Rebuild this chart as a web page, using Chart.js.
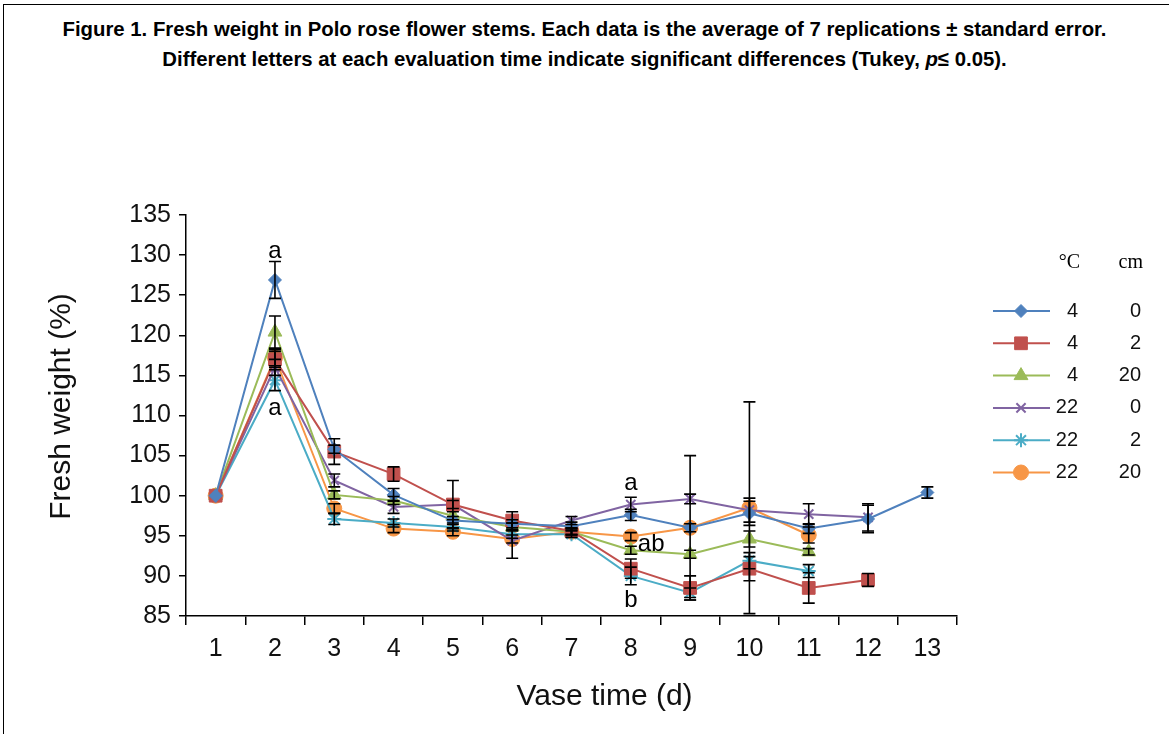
<!DOCTYPE html>
<html>
<head>
<meta charset="utf-8">
<script src="https://cdn.jsdelivr.net/npm/chart.js@4.4.1/dist/chart.umd.min.js"></script>
<style>
  html, body { margin: 0; padding: 0; background: #fff; }
  #wrap { position: relative; width: 1169px; height: 734px; overflow: hidden; background: #fff; }
  #frame { position: absolute; left: 3px; top: 4px; width: 1180px; height: 740px; border-left: 1.5px solid #000; border-top: 1.5px solid #000; box-sizing: border-box; }
  #title { position: absolute; left: 0; top: 14px; width: 1169px; text-align: center; font-family: "Liberation Sans", Arial, sans-serif; font-weight: bold; font-size: 21px; line-height: 30px; color: #000; white-space: nowrap; transform-origin: 584.5px 0; }
  #title span { display: inline-block; }
  canvas { position: absolute; left: 0; top: 0; }
</style>
</head>
<body>
<div id="wrap">
  <div id="frame"></div>
  <div id="title"><span id="t1">Figure 1. Fresh weight in Polo rose flower stems. Each data is the average of 7 replications ± standard error.</span><br><span id="t2">Different letters at each evaluation time indicate significant differences (Tukey, <i>p</i>≤ 0.05).</span></div>
  <canvas id="c" width="1169" height="734"></canvas>
</div>
<script>
// ---- Data ----
const days = ['1','2','3','4','5','6','7','8','9','10','11','12','13'];
const yTicks = [85, 90, 95, 100, 105, 110, 115, 120, 125, 130, 135];
const xTitle = 'Vase time (d)';
const yTitle = 'Fresh weight (%)';

const temps = ['4', '4', '4', '22', '22', '22'];
const cuts  = ['0', '2', '20', '0', '2', '20'];

const t4c0   = [100, 126.9, 105.8, 100.1, 96.9, 96.5, 96.2, 97.6, 96.0, 97.8, 95.9, 97.1, 100.4];
const t4c2   = [100, 117.0, 105.5, 102.7, 98.9, 96.9, 95.6, 90.9, 88.5, 90.9, 88.5, 89.5, null];
const t4c20  = [100, 120.4, 100.1, 99.4, 97.5, 96.1, 95.5, 93.2, 92.7, 94.6, 93.0, null, null];
const t22c0  = [100, 116.0, 101.9, 98.6, 98.9, 94.4, 96.9, 98.9, 99.6, 98.2, 97.7, 97.3, null];
const t22c2  = [100, 114.4, 97.1, 96.6, 96.1, 95.2, 95.2, 90.0, 87.9, 91.9, 90.6, null, null];
const t22c20 = [100, 117.2, 98.4, 95.9, 95.5, 94.6, 95.5, 94.9, 96.0, 98.5, 95.1, null, null];

// standard errors
const e4c0   = [0, 2.3, 0.5, 0.8, 0.5, 0.5, 0.5, 0.7, 9.0, 1.5, 0.6, 1.7, 0.7];
const e4c2   = [0, 1.0, 1.6, 0.9, 3.0, 1.1, 0.4, 1.2, 1.5, 1.5, 1.9, 0.8, null];
const e4c20  = [0, 2.0, 0.5, 0.5, 0.5, 0.5, 0.4, 0.5, 0.5, 1.0, 0.4, null, null];
const e22c0  = [0, 1.0, 0.8, 0.8, 0.5, 2.2, 0.5, 0.9, 0.6, 1.5, 1.3, 1.7, null];
const e22c2  = [0, 1.3, 0.7, 0.5, 0.5, 0.5, 0.4, 1.1, 0.6, 1.0, 0.8, null, null];
const e22c20 = [0, 1.0, 0.6, 0.5, 0.5, 0.5, 0.4, 0.5, 0.5, 13.2, 1.0, null, null];

// significance letters
const letterText  = ['a', 'a', 'a', 'ab', 'b'];
const letterDay   = ['2', '2', '8', '8', '8'];
const letterValue = [130.5, 110.9, 101.5, 93.9, 87.0];
const letterAlign = ['center', 'center', 'center', 'left', 'center'];

const colors = ['#4F81BD', '#C0504D', '#9BBB59', '#8064A2', '#4BACC6', '#F79646'];
const styles = ['rectRot', 'rect', 'triangle', 'crossRot', 'star', 'circle'];
const radii  = [6.5, 9, 8, 6.5, 7, 7.5];
const seriesValues = [t4c0, t4c2, t4c20, t22c0, t22c2, t22c20];
const seriesErrors = [e4c0, e4c2, e4c20, e22c0, e22c2, e22c20];

// ---- Title fit (condensed look) ----
(function fitTitle(){
  const t1 = document.getElementById('t1');
  const title = document.getElementById('title');
  const w = t1.getBoundingClientRect().width;
  title.style.transform = 'scaleX(' + (1044 / w) + ')';
})();

const FONT = '"Liberation Sans", Arial, Helvetica, sans-serif';

const datasets = seriesValues.map((vals, i) => ({
  label: temps[i] + ' ' + cuts[i],
  data: vals,
  borderColor: colors[i],
  backgroundColor: colors[i],
  borderWidth: 2,
  pointStyle: styles[i],
  pointRadius: radii[i],
  pointHoverRadius: radii[i],
  pointBorderWidth: (styles[i] === 'crossRot' || styles[i] === 'star') ? 2 : 1,
  pointBorderColor: colors[i],
  pointBackgroundColor: colors[i],
  tension: 0,
  spanGaps: false,
  errors: seriesErrors[i]
}));

function drawMarker(ctx, style, x, y, r, color) {
  ctx.save();
  ctx.fillStyle = color; ctx.strokeStyle = color; ctx.lineWidth = (style === 'crossRot' || style === 'star') ? 2 : 1;
  if (Chart.helpers && Chart.helpers.drawPoint) {
    Chart.helpers.drawPoint(ctx, { pointStyle: style, rotation: 0, radius: r, borderWidth: ctx.lineWidth }, x, y);
  } else {
    ctx.beginPath(); ctx.arc(x, y, r, 0, Math.PI * 2); ctx.fill();
  }
  ctx.restore();
}

const errorBarPlugin = {
  id: 'errorBars',
  afterDatasetsDraw(chart) {
    const { ctx, scales: { x, y } } = chart;
    ctx.save();
    ctx.strokeStyle = '#000';
    ctx.lineWidth = 1.6;
    chart.data.datasets.forEach((ds) => {
      ds.data.forEach((v, j) => {
        const e = ds.errors[j];
        if (v == null || !e) return;
        const px = x.getPixelForValue(j);
        const yt = y.getPixelForValue(v + e);
        const yb = y.getPixelForValue(v - e);
        ctx.beginPath();
        ctx.moveTo(px, yt); ctx.lineTo(px, yb);
        ctx.moveTo(px - 6, yt); ctx.lineTo(px + 6, yt);
        ctx.moveTo(px - 6, yb); ctx.lineTo(px + 6, yb);
        ctx.stroke();
      });
    });
    ctx.restore();
  }
};

const lettersPlugin = {
  id: 'letters',
  afterDatasetsDraw(chart) {
    const { ctx, scales: { x, y } } = chart;
    ctx.save();
    ctx.fillStyle = '#000';
    ctx.font = '24px ' + FONT;
    ctx.textBaseline = 'middle';
    letterText.forEach((t, i) => {
      const px = x.getPixelForValue(days.indexOf(letterDay[i]));
      const py = y.getPixelForValue(letterValue[i]);
      ctx.textAlign = letterAlign[i];
      ctx.fillText(t, letterAlign[i] === 'left' ? px + 7 : px, py);
    });
    ctx.restore();
  }
};

const axisTitlePlugin = {
  id: 'axisTitles',
  afterDraw(chart) {
    const { ctx, scales: { x, y } } = chart;
    ctx.save();
    ctx.fillStyle = '#111';
    ctx.font = '30px ' + FONT;
    ctx.textAlign = 'center';
    ctx.textBaseline = 'middle';
    ctx.fillText(xTitle, (x.left + x.right) / 2 + 33, x.bottom - 37);
    ctx.translate(62, (y.top + y.bottom) / 2 - 9);
    ctx.rotate(-Math.PI / 2);
    ctx.fillText(yTitle, 0, 0);
    ctx.restore();
  }
};

const legendPlugin = {
  id: 'customLegend',
  afterDraw(chart) {
    const { ctx } = chart;
    ctx.save();
    ctx.fillStyle = '#000';
    ctx.textBaseline = 'middle';
    ctx.font = '20px "Liberation Serif", "Times New Roman", serif';
    ctx.textAlign = 'right';
    ctx.fillText('°C', 1080, 263);
    ctx.fillText('cm', 1143, 263);
    const y0 = 311, dy = 32.3;
    chart.data.datasets.forEach((ds, i) => {
      const yy = y0 + i * dy;
      ctx.strokeStyle = ds.borderColor;
      ctx.lineWidth = 2;
      ctx.beginPath(); ctx.moveTo(993, yy); ctx.lineTo(1050, yy); ctx.stroke();
      drawMarker(ctx, ds.pointStyle, 1021, yy, ds.pointRadius, ds.borderColor);
      ctx.fillStyle = '#111';
      ctx.font = '20px ' + FONT;
      ctx.textAlign = 'right';
      ctx.fillText(temps[i], 1078, yy);
      ctx.fillText(cuts[i], 1141, yy);
    });
    ctx.restore();
  }
};

new Chart(document.getElementById('c'), {
  type: 'line',
  data: { labels: days, datasets },
  options: {
    responsive: false,
    animation: false,
    layout: { padding: { top: 215, right: 212, bottom: 0, left: 0 } },
    plugins: { legend: { display: false }, title: { display: false }, tooltip: { enabled: false } },
    scales: {
      x: {
        type: 'category',
        offset: true,
        grid: { display: true, drawOnChartArea: false, drawTicks: true, tickLength: 9, color: '#000', lineWidth: 1.5, offset: true },
        border: { display: true, color: '#000', width: 1.5 },
        ticks: { color: '#111', font: { family: FONT, size: 25 }, padding: 9, maxRotation: 0 },
        title: { display: false },
        afterFit(scale) { scale.height = 118; }
      },
      y: {
        min: 85, max: 135,
        afterBuildTicks(scale) { scale.ticks = yTicks.map(v => ({ value: v })); },
        grid: { display: true, drawOnChartArea: false, drawTicks: true, tickLength: 7, color: '#000', lineWidth: 1.5 },
        border: { display: true, color: '#000', width: 1.5 },
        ticks: { color: '#111', font: { family: FONT, size: 25 }, padding: 8 },
        title: { display: false },
        afterFit(scale) { scale.width = 186; }
      }
    }
  },
  plugins: [errorBarPlugin, lettersPlugin, axisTitlePlugin, legendPlugin]
});
</script>
</body>
</html>
